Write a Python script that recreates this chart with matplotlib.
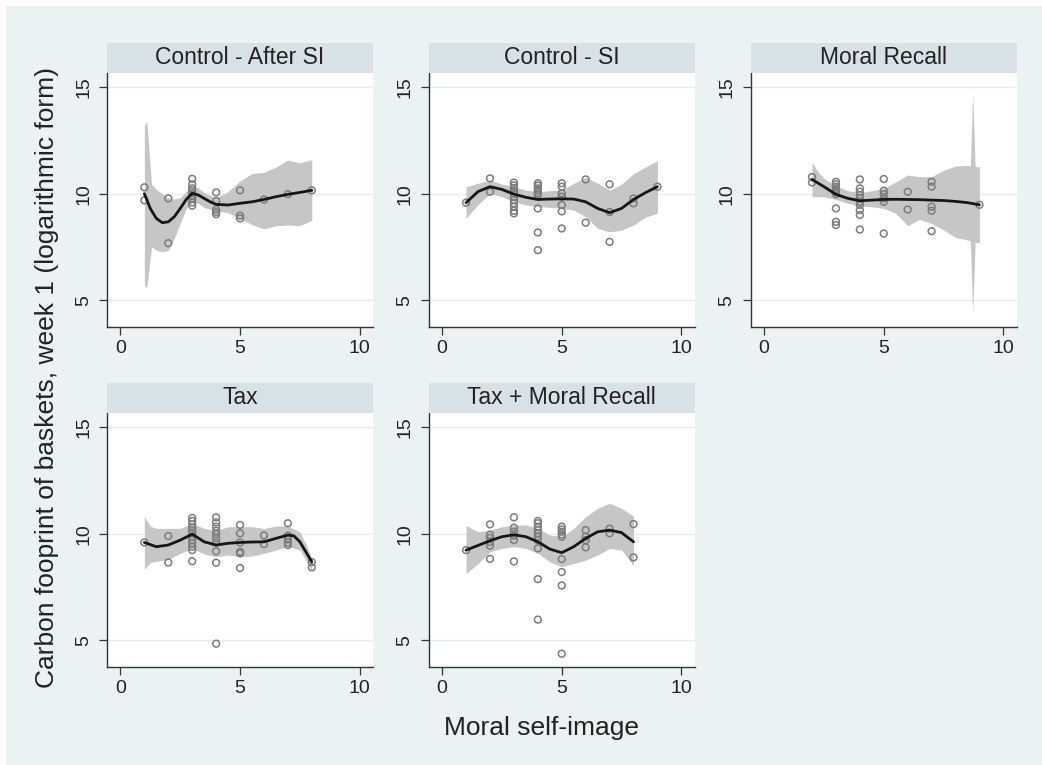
import matplotlib
matplotlib.use("Agg")
import matplotlib.pyplot as plt
from matplotlib.patches import Rectangle

plt.rcParams["font.family"] = ["Liberation Sans", "DejaVu Sans"]

# Control - After SI
ca_x = [1, 1, 2, 2, 3, 3, 3, 3, 3, 3, 3, 3, 3, 4, 4, 4, 4, 4, 5, 5, 5, 6, 7, 8]
ca_y = [10.30, 9.69, 9.78, 7.68, 10.70, 10.44, 10.25, 10.14, 10.02, 9.89, 9.77, 9.59, 9.44,
        10.06, 9.66, 9.25, 9.14, 9.04, 10.16, 8.97, 8.84, 9.73, 9.98, 10.16]
ca_fit_x = [1, 1.25, 1.5, 1.75, 2, 2.25, 2.5, 2.75, 3, 3.25, 3.5, 3.75, 4, 4.5, 5, 5.5, 6, 6.5, 7, 7.5, 8]
ca_fit_y = [10.0, 9.3, 8.84, 8.64, 8.68, 8.92, 9.31, 9.73, 10.02, 9.94, 9.78, 9.62, 9.5, 9.47,
            9.55, 9.62, 9.73, 9.86, 9.97, 10.06, 10.16]
ca_band_x = [1.0, 1.1, 1.3, 1.5, 1.75, 2.0, 2.25, 2.5, 2.75, 3.0, 3.25, 3.5, 4.0, 4.5, 5.0, 5.5,
             6.0, 6.5, 7.0, 7.5, 8.0]
ca_band_hi = [13.2, 13.4, 10.45, 10.2, 10.0, 9.8, 9.75, 9.8, 10.1, 10.3, 10.28, 10.05, 9.8, 10.1,
              10.6, 10.95, 11.0, 11.25, 11.58, 11.45, 11.6]
ca_band_lo = [5.7, 5.6, 7.5, 7.35, 7.27, 7.35, 7.9, 8.6, 9.3, 9.6, 9.55, 9.35, 9.2, 9.1, 8.85,
              8.55, 8.35, 8.5, 8.53, 8.5, 8.75]

# Control - SI
cs_x = [1, 2, 2] + [3] * 11 + [4] * 9 + [5] * 7 + [6, 6, 7, 7, 7, 8, 8, 9]
cs_y = [9.58, 10.72, 10.09,
        10.52, 10.39, 10.27, 10.14, 10.02, 9.86, 9.70, 9.55, 9.39, 9.20, 9.08,
        10.49, 10.38, 10.25, 10.14, 10.02, 9.94, 9.31, 8.18, 7.35,
        10.49, 10.33, 10.02, 9.86, 9.47, 9.17, 8.37,
        10.67, 8.64, 10.44, 9.14, 7.74, 9.78, 9.55, 10.33]
cs_fit_x = [1, 1.5, 2, 2.5, 3, 3.5, 4, 4.5, 5, 5.5, 6, 6.5, 7, 7.5, 8, 8.5, 9]
cs_fit_y = [9.58, 10.1, 10.33, 10.2, 9.98, 9.83, 9.73, 9.75, 9.76, 9.75, 9.62, 9.31, 9.11, 9.31,
            9.73, 10.05, 10.33]
cs_band_x = [1, 1.5, 2, 2.5, 3, 3.5, 4, 4.5, 5, 5.5, 6, 6.5, 7, 7.5, 8, 8.5, 9]
cs_band_hi = [10.33, 10.49, 10.64, 10.45, 10.33, 10.17, 10.09, 10.14, 10.17, 10.49, 10.77, 10.5,
              10.17, 10.45, 10.94, 11.25, 11.55]
cs_band_lo = [8.84, 9.5, 10.0, 9.86, 9.62, 9.47, 9.39, 9.36, 9.31, 9.23, 8.92, 8.37, 8.21, 8.29,
              8.53, 8.9, 9.08]

# Moral Recall
mr_x = [2, 2] + [3] * 9 + [4] * 10 + [5] * 6 + [6, 6] + [7] * 5 + [9]
mr_y = [10.78, 10.53,
        10.56, 10.45, 10.33, 10.2, 10.09, 9.98, 9.31, 8.68, 8.53,
        10.67, 10.25, 10.09, 9.94, 9.78, 9.62, 9.47, 9.23, 9.0, 8.32,
        10.69, 10.14, 9.98, 9.78, 9.62, 8.13,
        10.09, 9.26, 10.56, 10.33, 9.39, 9.2, 8.24, 9.48]
mr_fit_x = [2, 2.5, 3, 3.5, 4, 4.5, 5, 5.5, 6, 6.5, 7, 7.5, 8, 8.5, 9]
mr_fit_y = [10.67, 10.33, 9.97, 9.78, 9.67, 9.70, 9.73, 9.74, 9.73, 9.72, 9.70, 9.68, 9.64, 9.58, 9.48]
mr_band_x = [2.0, 2.25, 2.5, 3.0, 3.5, 4.0, 4.5, 5.0, 5.5, 6.0, 6.5, 7.0, 7.5, 8.0, 8.5, 8.62,
             8.72, 8.82, 9.0]
mr_band_hi = [11.46, 11.03, 10.72, 10.36, 10.14, 10.05, 10.14, 10.25, 10.55, 10.88, 10.8, 10.8,
              11.1, 11.3, 11.33, 11.3, 14.72, 11.27, 11.27]
mr_band_lo = [9.86, 9.86, 9.86, 9.73, 9.55, 9.42, 9.39, 9.31, 9.08, 8.5, 8.8, 8.6, 8.3, 7.95,
              7.83, 7.8, 4.37, 7.71, 7.71]

# Tax
tx_x = [1, 2, 2] + [3] * 12 + [4] * 10 + [5] * 6 + [6, 6] + [7] * 5 + [8, 8]
tx_y = [9.59, 9.89, 8.65,
        10.74, 10.6, 10.44, 10.28, 10.14, 10.02, 9.86, 9.70, 9.55, 9.39, 9.23, 8.71,
        10.77, 10.53, 10.33, 10.14, 9.98, 9.78, 9.58, 9.18, 8.64, 4.84,
        10.41, 10.02, 9.59, 9.15, 9.08, 8.39,
        9.92, 9.51, 10.49, 9.91, 9.73, 9.58, 9.47, 8.67, 8.42]
tx_fit_x = [1, 1.5, 2, 2.5, 3, 3.5, 4, 4.5, 5, 5.5, 6, 6.5, 7, 7.25, 7.5, 7.75, 8]
tx_fit_y = [9.59, 9.39, 9.47, 9.70, 9.98, 9.62, 9.47, 9.55, 9.59, 9.61, 9.62, 9.78, 9.94, 9.9,
            9.62, 9.15, 8.68]
tx_band_x = [1.0, 1.25, 1.5, 2.0, 2.5, 3.0, 3.5, 4.0, 4.5, 5.0, 5.5, 6.0, 6.5, 7.0, 7.5, 7.8, 8.0]
tx_band_hi = [10.8, 10.35, 10.25, 10.25, 10.25, 10.49, 10.25, 10.14, 10.33, 10.33, 10.33, 10.25,
              10.36, 10.36, 10.09, 9.39, 8.84]
tx_band_lo = [8.32, 8.65, 8.7, 8.79, 9.08, 9.31, 9.05, 8.92, 9.0, 8.92, 8.95, 9.08, 9.23, 9.42,
              9.23, 8.68, 8.21]

# Tax + Moral Recall
tm_x = [1] + [2] * 6 + [3] * 6 + [4] * 10 + [5] * 9 + [6] * 4 + [7, 7, 8, 8]
tm_y = [9.23,
        10.44, 9.95, 9.8, 9.62, 9.44, 8.82,
        10.77, 10.28, 10.09, 9.91, 9.70, 8.70,
        10.6, 10.49, 10.33, 10.17, 10.02, 9.86, 9.70, 9.31, 7.87, 5.97,
        10.33, 10.2, 10.09, 9.97, 9.86, 8.81, 8.2, 7.57, 4.37,
        10.17, 9.86, 9.70, 9.36, 10.24, 10.02, 10.45, 8.89]
tm_fit_x = [1, 1.5, 2, 2.5, 3, 3.5, 4, 4.5, 5, 5.5, 6, 6.5, 7, 7.5, 8]
tm_fit_y = [9.23, 9.45, 9.67, 9.86, 9.95, 9.86, 9.62, 9.28, 9.11, 9.39, 9.78, 10.09, 10.17, 10.05, 9.62]
tm_band_x = [1, 1.5, 2, 2.5, 3, 3.5, 4, 4.5, 5, 5.5, 6, 6.5, 7, 7.5, 8]
tm_band_hi = [10.38, 10.09, 10.17, 10.33, 10.41, 10.41, 10.25, 9.94, 9.86, 10.25, 10.8, 11.19,
              11.43, 11.19, 10.83]
tm_band_lo = [8.13, 8.6, 9.15, 9.31, 9.39, 9.31, 9.08, 8.68, 8.45, 8.6, 8.76, 9.0, 9.31, 9.23, 8.5]

titles = ["Control - After SI", "Control - SI", "Moral Recall", "Tax", "Tax + Moral Recall"]
x_ticks = [0, 5, 10]
y_ticks = [5, 10, 15]

BG = "#eaf2f3"
STRIP = "#d6e2e7"
TEXT = "#222222"

W, H = 1042, 765


def draw_panel(ax, title, px, py, fx, fy, bx, blo, bhi):
    ax.set_facecolor("white")
    ax.fill_between(bx, blo, bhi, color="#c6c6c6", lw=0, zorder=2)
    ax.scatter(px, py, s=24, facecolors="none", edgecolors="#7c7c7c", linewidths=1.1, zorder=3)
    ax.plot(fx, fy, color="#161616", lw=2.0, solid_joinstyle="round", solid_capstyle="round", zorder=4)
    ax.set_xlim(-0.55, 10.55)
    ax.set_ylim(3.76, 15.65)
    ax.set_xticks(x_ticks)
    ax.set_yticks(y_ticks)
    ax.grid(axis="y", color="#e4eef0", lw=1.0, zorder=1)
    ax.set_axisbelow(True)
    for side in ["top", "right"]:
        ax.spines[side].set_visible(False)
    for side in ["left", "bottom"]:
        ax.spines[side].set_color("#333333")
        ax.spines[side].set_linewidth(1.0)
    ax.tick_params(axis="both", direction="out", length=5.5, width=0.9, color="#333333",
                   labelsize=14, labelcolor=TEXT)
    ax.tick_params(axis="x", pad=4)
    ax.tick_params(axis="y", pad=5.5, labelrotation=90)
    for lab in ax.get_yticklabels():
        lab.set_va("center")
    strip_h = 30.6 / 253.4
    ax.add_patch(Rectangle((0, 1), 1, strip_h, transform=ax.transAxes, facecolor=STRIP,
                           edgecolor="none", clip_on=False, zorder=5))
    ax.text(0.5, 1 + strip_h / 2, title, transform=ax.transAxes, ha="center", va="center",
            fontsize=16.5, color=TEXT, zorder=6)


fig = plt.figure(figsize=(W / 100, H / 100), dpi=100)
fig.patch.set_facecolor("white")
fig.add_artist(Rectangle((6 / W, 0), 1, 1 - 6 / H, transform=fig.transFigure,
                         facecolor=BG, edgecolor="none", zorder=0))

lefts = [107.3, 429.0, 751.0]
bottoms = [326.7, 666.7]
pw, ph = 265.5, 253.4

panels = [
    (ca_x, ca_y, ca_fit_x, ca_fit_y, ca_band_x, ca_band_lo, ca_band_hi),
    (cs_x, cs_y, cs_fit_x, cs_fit_y, cs_band_x, cs_band_lo, cs_band_hi),
    (mr_x, mr_y, mr_fit_x, mr_fit_y, mr_band_x, mr_band_lo, mr_band_hi),
    (tx_x, tx_y, tx_fit_x, tx_fit_y, tx_band_x, tx_band_lo, tx_band_hi),
    (tm_x, tm_y, tm_fit_x, tm_fit_y, tm_band_x, tm_band_lo, tm_band_hi),
]

for i, (title, data) in enumerate(zip(titles, panels)):
    row, col = divmod(i, 3)
    ax = fig.add_axes([lefts[col] / W, 1 - bottoms[row] / H, pw / W, ph / H])
    draw_panel(ax, title, *data)

fig.text(542 / W, 1 - 728 / H, "Moral self-image", ha="center", va="center",
         fontsize=19, color=TEXT)
fig.text(47 / W, 1 - 378 / H, "Carbon fooprint of baskets, week 1 (logarithmic form)",
         ha="center", va="center", rotation=90, fontsize=19, color=TEXT)

fig.savefig("out.png", dpi=100, facecolor=fig.get_facecolor())
